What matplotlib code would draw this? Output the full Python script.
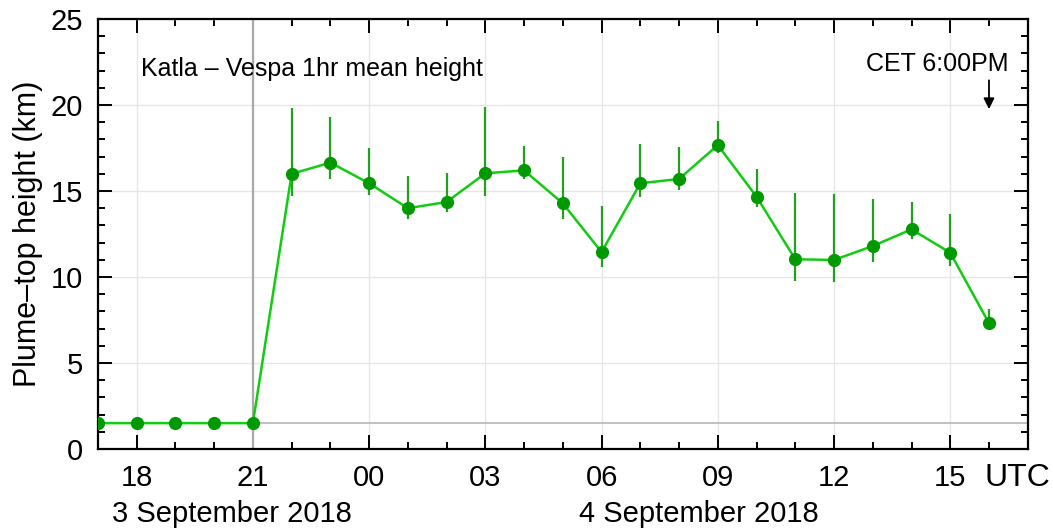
import numpy as np
import matplotlib
matplotlib.use("Agg")
import matplotlib.pyplot as plt
from matplotlib.ticker import MultipleLocator

plt.rcParams['font.family'] = ['Liberation Sans', 'DejaVu Sans']

# hours since 3 Sep 2018 00:00 UTC
hours = [17, 18, 19, 20, 21, 22, 23, 24, 25, 26, 27, 28, 29, 30, 31, 32, 33, 34, 35, 36, 37, 38, 39, 40]
height = [1.5, 1.5, 1.5, 1.5, 1.5, 16.0, 16.65, 15.45, 14.0, 14.36, 16.03, 16.2, 14.28, 11.45,
          15.45, 15.7, 17.67, 14.67, 11.03, 10.99, 11.8, 12.77, 11.41, 7.31]
err_top = [1.5, 1.5, 1.5, 1.5, 1.5, 19.8, 19.3, 17.5, 15.9, 16.06, 19.87, 17.6, 17.0, 14.1,
           17.73, 17.58, 19.07, 16.28, 14.87, 14.83, 14.55, 14.38, 13.66, 8.12]
err_bot = [1.5, 1.5, 1.5, 1.5, 1.5, 14.7, 15.7, 14.75, 13.35, 13.8, 14.73, 15.7, 13.35, 10.6,
           14.67, 15.06, 17.19, 14.09, 9.75, 9.69, 10.89, 12.23, 10.64, 7.1]

tick_hours = [18, 21, 24, 27, 30, 33, 36, 39]
tick_labels = ['18', '21', '00', '03', '06', '09', '12', '15']
day_labels = ['3 September 2018', '4 September 2018']
day_pos = [20.45, 32.5]

fig = plt.figure(figsize=(10.53, 5.30), dpi=100)
ax = fig.add_axes([0.093, 0.153, 0.883, 0.811])

h = np.array(height)
yerr = [h - np.array(err_bot), np.array(err_top) - h]

ax.axhline(1.5, color='#bbbbbb', lw=1.3, zorder=1)
ax.axvline(21, color='#aaaaaa', lw=1.6, zorder=1)

ax.errorbar(hours, height, yerr=yerr, fmt='none', ecolor='#22a022', elinewidth=1.6, zorder=2)
ax.plot(hours, height, color='#11cc11', lw=1.8, zorder=3)
ax.plot(hours, height, 'o', color='#009900', markersize=8.5, zorder=4)

ax.set_xlim(17, 41)
ax.set_ylim(0, 25)
ax.set_xticks(tick_hours)
ax.set_xticklabels(tick_labels)
ax.xaxis.set_minor_locator(MultipleLocator(1))
ax.yaxis.set_major_locator(MultipleLocator(5))
ax.yaxis.set_minor_locator(MultipleLocator(1))
ax.tick_params(which='both', direction='in', top=True, right=True, width=1.4)
ax.tick_params(which='major', length=10, labelsize=21)
ax.tick_params(which='minor', length=5)
ax.tick_params(axis='x', which='major', pad=11)
ax.tick_params(axis='y', which='major', pad=11)
for s in ax.spines.values():
    s.set_linewidth(1.6)
ax.grid(True, which='major', color='#e6e6e6', lw=1.0, zorder=0)
ax.set_axisbelow(True)

ax.set_ylabel('Plume\u2013top height (km)', fontsize=22)
ax.yaxis.set_label_coords(-0.059, 0.5)

ax.text(1.024, -0.086, 'UTC', transform=ax.transAxes, fontsize=23, ha='right', va='baseline')
for lbl, pos in zip(day_labels, day_pos):
    ax.text(pos, -0.12, lbl, transform=ax.get_xaxis_transform(), fontsize=21,
            ha='center', va='top')

ax.text(18.12, 22.1, 'Katla \u2013 Vespa 1hr mean height', fontsize=18, va='center', ha='left')
ax.text(40.5, 22.4, 'CET 6:00PM', fontsize=18, va='center', ha='right')
ax.annotate('', xy=(40, 19.6), xytext=(40, 21.6),
            arrowprops=dict(arrowstyle='-|>', color='black', lw=1.3, mutation_scale=16))

fig.savefig('out.png', dpi=100)
